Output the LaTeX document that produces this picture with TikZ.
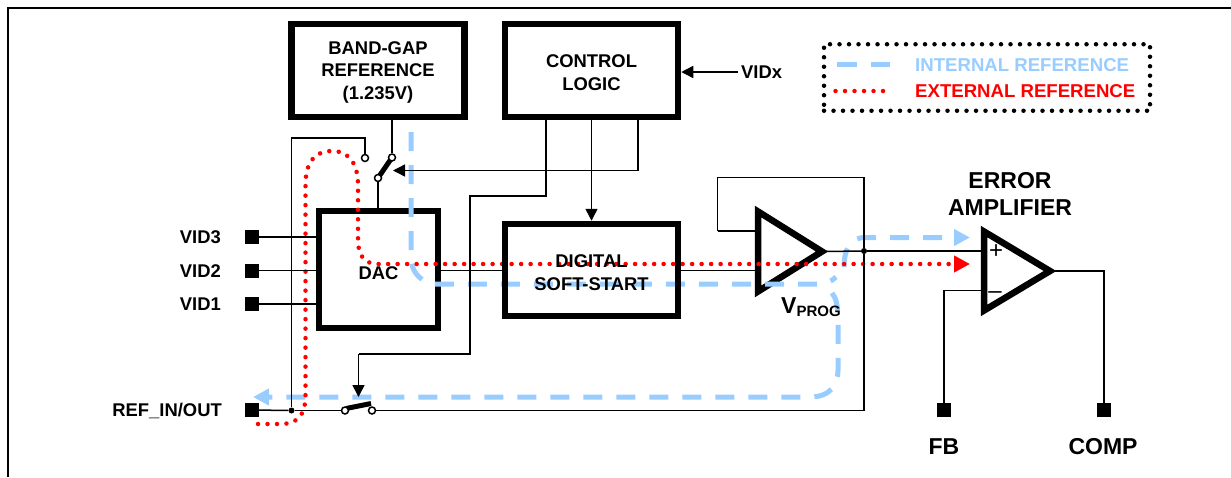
\documentclass[tikz,border=0pt]{standalone}
\usepackage{fontspec}
\setmainfont{Liberation Sans}
\usetikzlibrary{positioning,arrows.meta,shapes.geometric}
\definecolor{intblue}{RGB}{153,204,255}
\newcommand{\blocktext}[2]{\raisebox{#1}[0pt][0pt]{\begin{tabular}{@{}c@{}}#2\end{tabular}}}
\begin{document}
\begin{tikzpicture}[
    x=1pt, y=-1pt,
    node distance=33.5pt,
    labeltext/.style={font=\fontsize{18.4}{23}\selectfont\bfseries, align=center, inner sep=0pt},
    bigtext/.style={font=\fontsize{23}{27}\selectfont\bfseries, align=center, inner sep=0pt},
    legendtext/.style={font=\fontsize{18.6}{22}\selectfont\bfseries, inner sep=0pt, anchor=west},
    blockbox/.style={rectangle, draw=black, line width=6.5pt, font=\fontsize{18.4}{22.5}\selectfont\bfseries, inner sep=0pt},
    amp/.style={isosceles triangle, isosceles triangle stretches, draw=black, line width=6.5pt, inner sep=0pt, outer sep=0pt, anchor=lower side, miter limit=10},
    pin/.style={rectangle, fill=black, minimum size=14pt, inner sep=0pt},
    contact/.style={circle, draw=black, fill=white, line width=1.5pt, minimum size=7pt, inner sep=0pt},
    junction/.style={circle, fill=black, minimum size=6pt, inner sep=0pt},
    wire/.style={line width=1.5pt, black},
    arrow/.style={wire, -{Triangle[length=12pt,width=12pt]}},
    blade/.style={line width=5pt, black},
    internalref/.style={line width=5pt, intblue, dash pattern=on 19pt off 14pt, -{Triangle[length=16pt,width=16pt]}},
    externalref/.style={line width=4.5pt, red, line cap=round, dash pattern=on 0pt off 9.5pt, -{Triangle[length=16pt,width=16pt]}}
]
\useasboundingbox (0,0) rectangle (1231,477);
\draw[line width=2.2pt] (8,477) -- (8,8) -- (1231,8);

\node[amp, minimum width=80pt, minimum height=64pt] (buffer) at (758,251.5) {};
\node[amp, minimum width=79pt, minimum height=66pt] (erroramp) at (984,271) {};
\node[blockbox, minimum width=119pt, minimum height=117pt] (dac) at (378.5,269.5) {\raisebox{-10pt}[0pt][0pt]{DAC}};

\draw[internalref, -] (411,132) -- (411,257) .. controls (411,270) and (418,280) .. (432,284) -- (817,284) .. controls (826,284) and (832,281) .. (836,277);
\draw[internalref] (844,267) .. controls (844,250) and (850,237.5) .. (865,237.5) -- (970,237.5);
\draw[internalref] (832,293) .. controls (836,298) and (838,305) .. (838,320) -- (838,370) .. controls (838,385) and (830,397) .. (810,397) -- (253,397);
\draw[externalref] (258,424) -- (280,424) .. controls (298,424) and (305.5,415) .. (305.5,395) -- (305.5,185) .. controls (305.5,162) and (315,151) .. (332,151) .. controls (350,151) and (358,165) .. (358,185) -- (358,240) .. controls (358,255) and (364,264) .. (378,264) -- (970,264);

\node[blockbox, minimum width=173pt, minimum height=93pt] (bandgap) at (378,70.5) {\blocktext{-6.2pt}{BAND-GAP\\REFERENCE\\(1.235V)}};
\node[blockbox, minimum width=173pt, minimum height=93pt] (control) at (591.5,70.5) {\blocktext{-8.2pt}{CONTROL\\LOGIC}};
\node[blockbox, minimum width=173pt, minimum height=92pt] (softstart) at (591.5,270) {\blocktext{-8.7pt}{DIGITAL\\SOFT-START}};

\node[pin] (vid3) at (252,237) {};
\node[pin, below of=vid3] (vid2) {};
\node[pin, below of=vid2] (vid1) {};
\node[pin] (refpin) at (252,410) {};
\node[pin] (fbpin) at (944,410) {};
\node[pin] (comppin) at (1104,410) {};

\node[labeltext, anchor=east] at (221,237) (vid3text) {VID3};
\node[labeltext, anchor=east] at (221,271) (vid2text) {VID2};
\node[labeltext, anchor=east] at (221,304.5) (vid1text) {VID1};
\node[labeltext, anchor=east] at (222,411) (refpintext) {REF\_IN/OUT};
\node[labeltext, anchor=west] at (741,72) (vidx) {VIDx};
\node[bigtext] at (944,447) (fbtext) {FB};
\node[bigtext] at (1103,447) (comptext) {COMP};
\node[bigtext] at (1010,193.5) (ampname) {ERROR\\AMPLIFIER};
\node[bigtext, anchor=west] at (781,307) (vprog) {V{\fontsize{15}{15}\selectfont\raisebox{-3pt}{PROG}}};
\node[font=\fontsize{24}{24}\selectfont, inner sep=0pt] at (996,251.5) (plus) {+};
\node[font=\fontsize{24}{24}\selectfont, inner sep=0pt] at (995,295) (minus) {\textendash};

\coordinate (throwapos) at (392,157.5);
\coordinate (poleapos) at (378,178);
\coordinate (polebpos) at (345,410.5);
\draw[blade] (poleapos) -- (throwapos);
\draw[blade] (polebpos) ++(1,-2) -- (371,403.5);
\node[contact] (throwa) at (throwapos) {};
\node[contact] (polea) at (poleapos) {};
\node[contact] (throwb) at (365,158) {};
\node[contact] (poleb) at (polebpos) {};
\node[contact] (throwc) at (372,410.5) {};
\node[junction] (outdot) at (864,251) {};
\node[junction] (refdot) at (291.5,410.5) {};

\draw[wire] (bandgap.south -| throwa) -- (throwa);
\draw[wire] (polea) -- (dac.north -| polea);
\draw[wire] (throwb) -- (365,138) -- (291.5,138) -- (refdot);
\draw[wire] (vid3) -- (vid3 -| dac.west);
\draw[wire] (vid2) -- (vid2 -| dac.west);
\draw[wire] (vid1) -- (vid1 -| dac.west);
\draw[wire] (vid2 -| dac.east) -- (vid2 -| softstart.west);
\draw[wire] (softstart.east |- vid2) -- (vid2 -| buffer.lower side);

\draw[wire] (546,118) -- (546,196) -- (470,196) -- (470,354) -- (358.5,354) coordinate (swdrive);
\draw[arrow] (swdrive) -- (358.5,397);
\draw[arrow] (591.5,117) -- (softstart.north);
\draw[wire] (638,118) -- (638,170.5) coordinate (swsense);
\draw[arrow] (swsense) -- (393,170.5);
\draw[arrow] (vidx.west) ++(-3,0) -- (control.east |- vidx);

\draw[wire] (717.5,231) -- (717.5,177.5) -- (864,177.5) -- (outdot);
\draw[wire] (717.5,231) -- (756,231);
\draw[wire] (buffer.apex) -- (outdot);
\draw[wire] (outdot) -- (982,251);
\draw[wire] (outdot) -- (864,410.5) -- (throwc);
\draw[wire] (refpin) -- (refdot);
\draw[wire] (refdot) -- (poleb);
\draw[wire] (982,290.5) -- (944,290.5) -- (fbpin);
\draw[wire] (erroramp.apex) -- (1104,271) -- (comppin);

\node[rectangle, draw=black, line width=4.5pt, line cap=round, dash pattern=on 0pt off 9.5pt, minimum width=326pt, minimum height=66.5pt, inner sep=0pt] (legend) at (987,77.5) {};
\draw[line width=5pt, intblue, dash pattern=on 20pt off 14pt] (837,64.5) -- (890,64.5);
\draw[line width=4.5pt, red, line cap=round, dash pattern=on 0pt off 9.5pt] (835.5,91) -- (888,91);
\node[legendtext, text=intblue] at (915,65) (intlabel) {INTERNAL REFERENCE};
\node[legendtext, text=red] at (915,91) (extlabel) {EXTERNAL REFERENCE};
\end{tikzpicture}
\end{document}
